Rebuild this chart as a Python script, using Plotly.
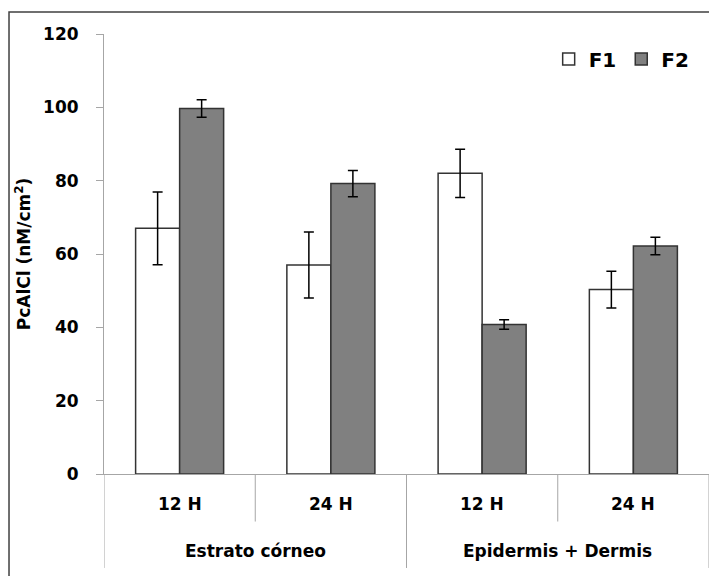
import plotly.graph_objects as go

# ---- data ----
groups = ["Estrato córneo", "Estrato córneo", "Epidermis + Dermis", "Epidermis + Dermis"]
times = ["12 H", "24 H", "12 H", "24 H"]
group_labels = ["Estrato córneo", "Epidermis + Dermis"]
f1_values = [67, 57, 82, 50.3]
f1_errors = [9.9, 9.0, 6.6, 5.0]
f2_values = [99.7, 79.2, 40.8, 62.2]
f2_errors = [2.4, 3.6, 1.3, 2.4]
y_ticks = [0, 20, 40, 60, 80, 100, 120]
y_title = "PcAlCl (nM/cm<sup>2</sup>)"

FONT = "DejaVu Sans"
x_pos = list(range(len(times)))

fig = go.Figure()
fig.add_trace(go.Bar(
    x=x_pos, y=f1_values, name="F1",
    marker=dict(color="white", line=dict(color="#333333", width=1.5)),
    error_y=dict(type="data", array=f1_errors, color="black", thickness=1.5, width=5),
))
fig.add_trace(go.Bar(
    x=x_pos, y=f2_values, name="F2",
    marker=dict(color="#808080", line=dict(color="#333333", width=1.5)),
    error_y=dict(type="data", array=f2_errors, color="black", thickness=1.5, width=5),
))

shapes = []
annotations = []
# category labels and dividers below the axis
for i, t in enumerate(times):
    annotations.append(dict(x=i, y=-0.068, xref="x", yref="paper", text=t, showarrow=False,
                            xanchor="center", yanchor="middle",
                            font=dict(family=FONT, size=17, color="black", weight="bold")))
for gi, g in enumerate(group_labels):
    annotations.append(dict(x=gi * 2 + 0.5, y=-0.175, xref="x", yref="paper", text=g, showarrow=False,
                            xanchor="center", yanchor="middle",
                            font=dict(family=FONT, size=17, color="black", weight="bold")))
n = len(times)
for k in range(n + 1):
    xb = k - 0.5
    long = (k % 2 == 0)
    shapes.append(dict(type="line", xref="x", yref="paper", x0=xb, x1=xb, y0=0,
                       y1=-0.2136 if long else -0.108, line=dict(color="#a6a6a6", width=1)))
# outer chart frame (cropped in the reference)
shapes.append(dict(type="rect", xref="paper", yref="paper", x0=-0.157, x1=1.05, y0=-0.3, y1=1.05,
                   line=dict(color="#404040", width=1.5), layer="below"))

fig.update_layout(
    width=717, height=576,
    margin=dict(l=96, r=16, t=26, b=110),
    paper_bgcolor="white", plot_bgcolor="white",
    barmode="group", bargap=0.418, bargroupgap=0,
    font=dict(family=FONT, color="black"),
    showlegend=True,
    legend=dict(orientation="h", x=0.735, xanchor="left", y=0.943, yanchor="middle",
                font=dict(family=FONT, size=20, color="black", weight="bold"),
                bgcolor="rgba(0,0,0,0)", traceorder="normal"),
    shapes=shapes, annotations=annotations,
)
fig.update_xaxes(range=[-0.5, n - 0.5], showticklabels=False, showgrid=False, zeroline=False,
                 showline=True, linecolor="#a6a6a6", linewidth=1, ticks="")
fig.update_yaxes(range=[0, 120], tickvals=y_ticks, showgrid=False, zeroline=False,
                 showline=True, linecolor="#a6a6a6", linewidth=1, ticks="outside",
                 ticklen=7, tickcolor="#a6a6a6", ticklabelstandoff=14,
                 tickfont=dict(family=FONT, size=17, color="black", weight="bold"),
                 title=dict(text=y_title, font=dict(family=FONT, size=17, color="black", weight="bold"),
                            standoff=8))

fig.write_html("out.html")
